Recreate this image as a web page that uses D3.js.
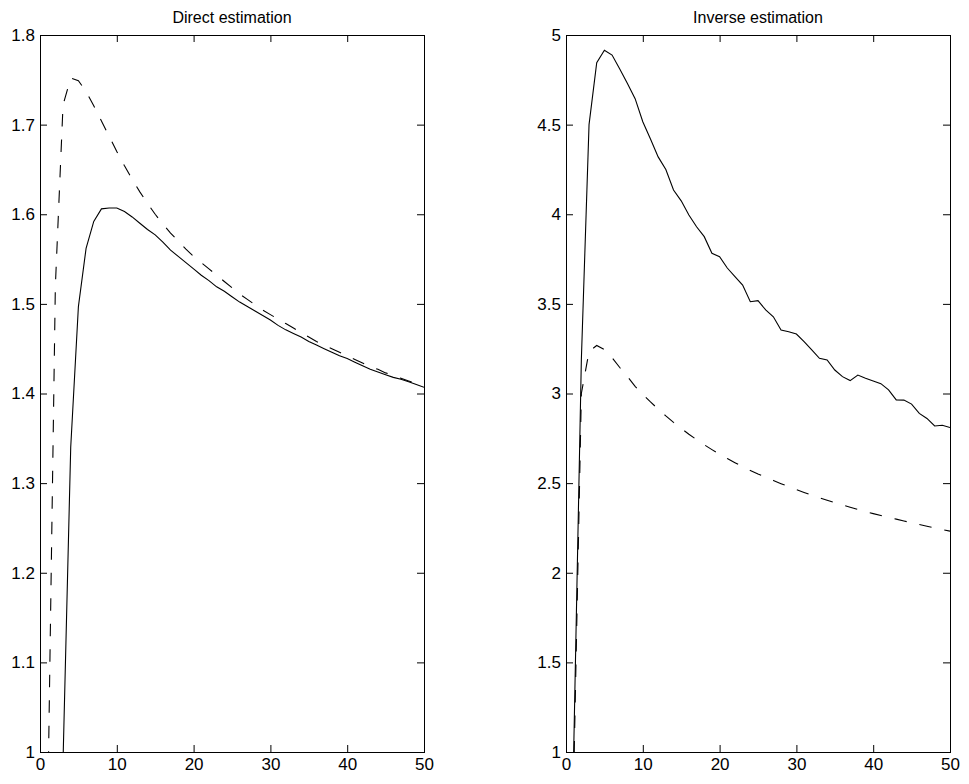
<!DOCTYPE html>
<html>
<head>
<meta charset="utf-8">
<script src="https://cdn.jsdelivr.net/npm/d3@7"></script>
<style>
body { margin: 0; background: #fff; }
svg { display: block; }
text { font-family: "Liberation Sans", Arial, Helvetica, sans-serif; fill: #000; }
</style>
</head>
<body>
<script>
// sample index shared by all curves
var steps = [1,2,3,4,5,6,7,8,9,10,11,12,13,14,15,16,17,18,19,20,
             21,22,23,24,25,26,27,28,29,30,31,32,33,34,35,36,37,38,39,40,
             41,42,43,44,45,46,47,48,49,50];

var directSolid = [0.2,0.5,0.99,1.34,1.497,1.562,1.592,1.606,1.607,1.607,
                   1.603,1.597,1.590,1.583,1.577,1.569,1.560,1.553,1.546,1.539,
                   1.532,1.526,1.519,1.514,1.508,1.502,1.497,1.492,1.487,1.482,
                   1.476,1.471,1.467,1.463,1.458,1.454,1.450,1.446,1.442,1.439,
                   1.435,1.431,1.427,1.424,1.421,1.418,1.416,1.413,1.410,1.407];

var directDashed = [0.93,1.52,1.722,1.752,1.749,1.737,1.721,1.704,1.687,1.670,
                    1.654,1.639,1.625,1.612,1.600,1.589,1.579,1.570,1.561,1.553,
                    1.546,1.539,1.532,1.525,1.518,1.511,1.505,1.499,1.493,1.488,
                    1.483,1.478,1.473,1.468,1.463,1.458,1.454,1.450,1.446,1.442,
                    1.438,1.434,1.430,1.427,1.423,1.420,1.417,1.414,1.411,1.409];

var inverseSolid = [1.0,3.19,4.50,4.845,4.915,4.888,4.81,4.73,4.645,4.516,
                    4.42,4.32,4.25,4.135,4.075,3.996,3.93,3.875,3.782,3.763,
                    3.70,3.652,3.605,3.512,3.518,3.466,3.428,3.354,3.345,3.332,
                    3.289,3.243,3.196,3.187,3.131,3.094,3.072,3.103,3.085,3.070,
                    3.055,3.020,2.964,2.963,2.941,2.889,2.861,2.819,2.823,2.810];

var inverseDashed = [0.85,3.0,3.235,3.268,3.245,3.200,3.145,3.095,3.040,2.995,
                     2.953,2.913,2.875,2.839,2.805,2.773,2.743,2.714,2.687,2.661,
                     2.637,2.614,2.592,2.571,2.551,2.533,2.515,2.497,2.480,2.464,
                     2.448,2.433,2.418,2.404,2.391,2.378,2.365,2.353,2.341,2.330,
                     2.319,2.309,2.299,2.289,2.279,2.269,2.259,2.250,2.241,2.232];

var xTicks = [0,10,20,30,40,50];
var directTicks = [1,1.1,1.2,1.3,1.4,1.5,1.6,1.7,1.8];
var inverseTicks = [1,1.5,2,2.5,3,3.5,4,4.5,5];

var panels = [
    { id: "direct", title: "Direct estimation", left: 40, yDomain: [1, 1.8],
      yTicks: directTicks, solid: directSolid, dashed: directDashed },
    { id: "inverse", title: "Inverse estimation", left: 566, yDomain: [1, 5],
      yTicks: inverseTicks, solid: inverseSolid, dashed: inverseDashed }
];

var W = 969, H = 784;
var top_ = 35, bottom_ = 752, pw = 384;
var tickLen = 7;

var svg = d3.select("body").append("svg")
            .attr("width", W)
            .attr("height", H);

svg.append("rect")
    .attr("width", W).attr("height", H)
    .attr("fill", "#fff");

panels.forEach((p) => {

    var x = d3.scaleLinear().domain([0, 50]).range([0, pw]);
    var y = d3.scaleLinear().domain(p.yDomain).range([bottom_ - top_, 0]);
    var ph = bottom_ - top_;

    var g = svg.append("g")
                .attr("transform", "translate(" + p.left + "," + top_ + ")");

    g.append("clipPath").attr("id", "clip-" + p.id)
        .append("rect")
        .attr("width", pw).attr("height", ph);

    // axes, ticks pointing inward as on a matlab box
    var fmt = (d) => d3.format("~g")(d);

    g.append("g")
        .attr("transform", "translate(0," + ph + ")")
        .call(d3.axisBottom(x).tickValues(xTicks).tickSizeInner(-tickLen).tickSizeOuter(0).tickPadding(6).tickFormat(fmt));
    g.append("g")
        .call(d3.axisTop(x).tickValues(xTicks).tickSizeInner(-tickLen).tickSizeOuter(0).tickFormat(""));
    g.append("g")
        .call(d3.axisLeft(y).tickValues(p.yTicks).tickSizeInner(-tickLen).tickSizeOuter(0).tickPadding(5).tickFormat(fmt));
    g.append("g")
        .attr("transform", "translate(" + pw + ",0)")
        .call(d3.axisRight(y).tickValues(p.yTicks).tickSizeInner(-tickLen).tickSizeOuter(0).tickFormat(""));

    g.selectAll(".domain").remove();
    g.selectAll(".tick line").attr("stroke", "#000");
    g.selectAll(".tick text")
        .attr("font-size", 17)
        .attr("font-family", "Liberation Sans, Arial, sans-serif")
        .attr("fill", "#000");

    g.append("rect")
        .attr("width", pw).attr("height", ph)
        .attr("fill", "none")
        .attr("stroke", "#000")
        .attr("stroke-width", 1)
        .attr("shape-rendering", "crispEdges");

    var line = (vals) => d3.line()
                            .x((d, i) => x(steps[i]))
                            .y((d) => y(d))(vals);

    var lines = g.append("g").attr("clip-path", "url(#clip-" + p.id + ")");

    lines.append("path")
        .attr("d", line(p.solid))
        .attr("fill", "none")
        .attr("stroke", "#000")
        .attr("stroke-width", 1.1);

    lines.append("path")
        .attr("d", line(p.dashed))
        .attr("fill", "none")
        .attr("stroke", "#000")
        .attr("stroke-width", 1.1)
        .attr("stroke-dasharray", "12.5,13");

    g.append("text")
        .attr("x", pw / 2)
        .attr("y", -12)
        .attr("text-anchor", "middle")
        .attr("font-size", 16)
        .text(p.title);
});
</script>
</body>
</html>
